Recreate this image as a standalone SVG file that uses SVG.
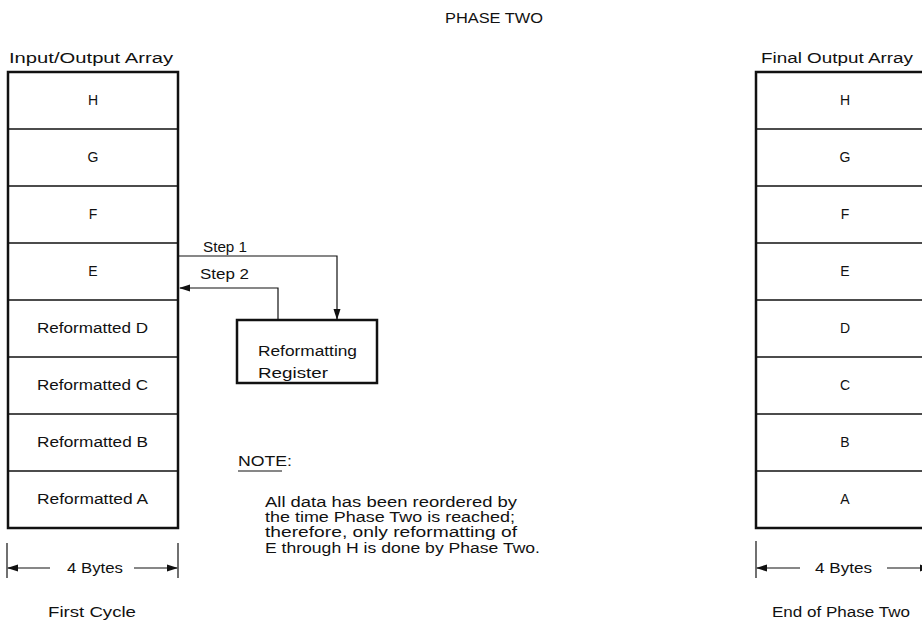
<svg xmlns="http://www.w3.org/2000/svg" width="922" height="622" viewBox="0 0 922 622">
<style>
text{font-family:"Liberation Sans",Arial,sans-serif;font-size:14px;fill:#111}
.c{text-anchor:middle}
.outer{fill:#fff;stroke:#111;stroke-width:2.5}
.div{stroke:#111;stroke-width:1.3}
.ln{stroke:#111;stroke-width:1.2;fill:none}
</style>
<defs>
<marker id="ah" markerWidth="11" markerHeight="8" refX="10" refY="4" orient="auto" markerUnits="userSpaceOnUse">
<path d="M0,0.5 L11,4 L0,7.5 Z" fill="#111"/>
</marker>
</defs>
<text x="445" y="23" textLength="98" lengthAdjust="spacingAndGlyphs">PHASE TWO</text>

<g id="io-array">
<text x="9" y="63" textLength="164" lengthAdjust="spacingAndGlyphs">Input/Output Array</text>
<rect class="outer" x="8" y="72" width="170" height="456"/>
<line class="div" x1="8" y1="129" x2="178" y2="129"/>
<line class="div" x1="8" y1="186" x2="178" y2="186"/>
<line class="div" x1="8" y1="243" x2="178" y2="243"/>
<line class="div" x1="8" y1="300" x2="178" y2="300"/>
<line class="div" x1="8" y1="357" x2="178" y2="357"/>
<line class="div" x1="8" y1="414" x2="178" y2="414"/>
<line class="div" x1="8" y1="471" x2="178" y2="471"/>
<text class="c" x="93" y="105">H</text>
<text class="c" x="93" y="162">G</text>
<text class="c" x="93" y="219">F</text>
<text class="c" x="93" y="276">E</text>
<text x="37" y="333" textLength="111" lengthAdjust="spacingAndGlyphs">Reformatted D</text>
<text x="37" y="390" textLength="111" lengthAdjust="spacingAndGlyphs">Reformatted C</text>
<text x="37" y="447" textLength="111" lengthAdjust="spacingAndGlyphs">Reformatted B</text>
<text x="37" y="504" textLength="111" lengthAdjust="spacingAndGlyphs">Reformatted A</text>
</g>

<g id="io-dim">
<line class="ln" x1="7" y1="543" x2="7" y2="578"/>
<line class="ln" x1="178" y1="543" x2="178" y2="578"/>
<line class="ln" x1="50" y1="568" x2="8" y2="568" marker-end="url(#ah)"/>
<line class="ln" x1="134" y1="568" x2="177" y2="568" marker-end="url(#ah)"/>
<text x="67" y="573" textLength="56" lengthAdjust="spacingAndGlyphs">4 Bytes</text>
<text x="48" y="617" textLength="88" lengthAdjust="spacingAndGlyphs">First Cycle</text>
</g>

<g id="register">
<rect x="237" y="320" width="140" height="63" fill="#fff" stroke="#111" stroke-width="2.5"/>
<text x="258" y="356" textLength="99" lengthAdjust="spacingAndGlyphs">Reformatting</text>
<text x="258" y="378" textLength="70" lengthAdjust="spacingAndGlyphs">Register</text>
</g>

<g id="connectors">
<polyline class="ln" points="179,256 337,256 337,319" marker-end="url(#ah)"/>
<polyline class="ln" points="278,320 278,288 180,288" marker-end="url(#ah)"/>
<text x="203" y="252" textLength="44" lengthAdjust="spacingAndGlyphs">Step 1</text>
<text x="200" y="279" textLength="49" lengthAdjust="spacingAndGlyphs">Step 2</text>
</g>

<g id="note">
<text x="238" y="466" textLength="54" lengthAdjust="spacingAndGlyphs">NOTE:</text>
<line class="ln" x1="238" y1="471" x2="282" y2="471"/>
<text x="265" y="507" textLength="252" lengthAdjust="spacingAndGlyphs">All data has been reordered by</text>
<text x="265" y="522" textLength="250" lengthAdjust="spacingAndGlyphs">the time Phase Two is reached;</text>
<text x="265" y="537" textLength="252" lengthAdjust="spacingAndGlyphs">therefore, only reformatting of</text>
<text x="265" y="553" textLength="275" lengthAdjust="spacingAndGlyphs">E through H is done by Phase Two.</text>
</g>

<g id="final-array">
<text x="761" y="63" textLength="152" lengthAdjust="spacingAndGlyphs">Final Output Array</text>
<rect class="outer" x="756" y="72" width="180" height="456"/>
<line class="div" x1="756" y1="129" x2="936" y2="129"/>
<line class="div" x1="756" y1="186" x2="936" y2="186"/>
<line class="div" x1="756" y1="243" x2="936" y2="243"/>
<line class="div" x1="756" y1="300" x2="936" y2="300"/>
<line class="div" x1="756" y1="357" x2="936" y2="357"/>
<line class="div" x1="756" y1="414" x2="936" y2="414"/>
<line class="div" x1="756" y1="471" x2="936" y2="471"/>
<text class="c" x="845" y="105">H</text>
<text class="c" x="845" y="162">G</text>
<text class="c" x="845" y="219">F</text>
<text class="c" x="845" y="276">E</text>
<text class="c" x="845" y="333">D</text>
<text class="c" x="845" y="390">C</text>
<text class="c" x="845" y="447">B</text>
<text class="c" x="845" y="504">A</text>
</g>

<g id="final-dim">
<line class="ln" x1="756" y1="541" x2="756" y2="578"/>
<line class="ln" x1="800" y1="568" x2="757" y2="568" marker-end="url(#ah)"/>
<line class="ln" x1="887" y1="568" x2="930" y2="568" marker-end="url(#ah)"/>
<text x="815" y="573" textLength="57" lengthAdjust="spacingAndGlyphs">4 Bytes</text>
<text x="772" y="617" textLength="138" lengthAdjust="spacingAndGlyphs">End of Phase Two</text>
</g>
</svg>
